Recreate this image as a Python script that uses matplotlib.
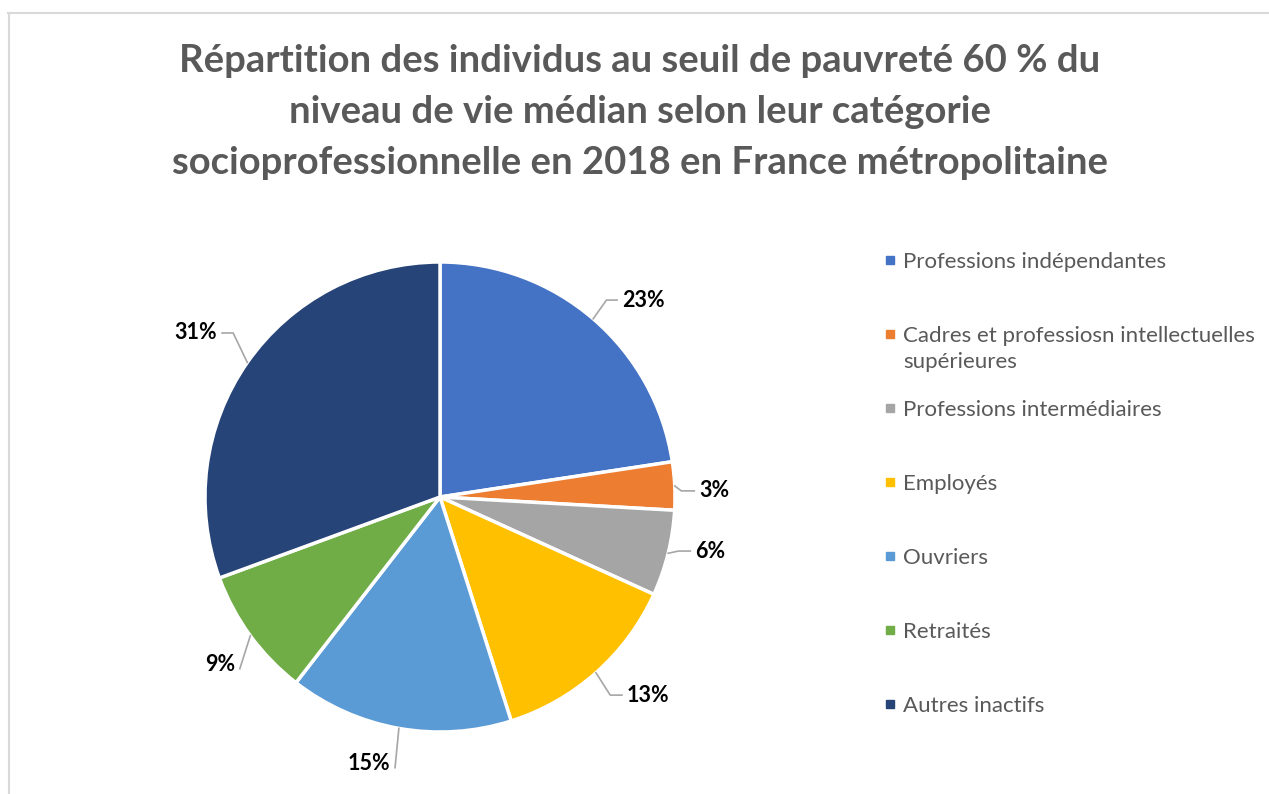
import matplotlib.pyplot as plt
import numpy as np

# données
categories = ['Professions indépendantes',
              'Cadres et professiosn intellectuelles\nsupérieures',
              'Professions intermédiaires',
              'Employés',
              'Ouvriers',
              'Retraités',
              'Autres inactifs']
values = [22.6, 3.3, 5.9, 13.3, 15.4, 8.9, 30.6]
colors = ['#4472C4', '#ED7D31', '#A5A5A5', '#FFC000', '#5B9BD5', '#70AD47', '#264478']
title_lines = ['Répartition des individus au seuil de pauvreté 60 % du',
               'niveau de vie médian selon leur catégorie',
               'socioprofessionnelle en 2018 en France métropolitaine']

# position des étiquettes (coordonnées du graphique, rayon = 1)
label_pos = [(0.864, 0.838), (1.166, 0.026), (1.149, -0.230), (0.885, -0.843),
             (-0.302, -1.132), (-0.936, -0.711), (-1.038, 0.698)]
elbow_len = [0.045, 0.055, 0.05, 0.05, 0.0, 0.0, 0.047]

plt.rcParams['font.family'] = ['Lato', 'DejaVu Sans']

W, H = 1269, 794
fig = plt.figure(figsize=(W / 100, H / 100), dpi=100)

# cadre gris clair
fig.add_artist(plt.Line2D([8 / W, 1], [1 - 13 / H, 1 - 13 / H], color='#d9d9d9', lw=1.5))
fig.add_artist(plt.Line2D([8.5 / W, 8.5 / W], [0, 1 - 13 / H], color='#d9d9d9', lw=1.5))

# titre
for i, line in enumerate(title_lines):
    fig.text(640 / W, 1 - (72 + 51 * i) / H, line, ha='center', va='baseline',
             fontsize=27.5, fontweight='bold', color='#595959')

# camembert : centre (440, 497) px, rayon 235 px
R = 235
cx, cy = 440, 497
ax = fig.add_axes([(cx - 1.5 * R) / W, (H - cy - 1.5 * R) / H, 3 * R / W, 3 * R / H])

wedges, _ = ax.pie(values, colors=colors, startangle=90, counterclock=False, radius=1,
                   wedgeprops=dict(edgecolor='white', linewidth=2.5))
ax.set_xlim(-1.5, 1.5)
ax.set_ylim(-1.5, 1.5)
ax.axis('off')
for w in wedges:
    w.set_clip_on(False)

fig.canvas.draw()
renderer = fig.canvas.get_renderer()
inv = ax.transData.inverted()

for w, v, (tx, ty), el in zip(wedges, values, label_pos, elbow_len):
    t = ax.text(tx, ty, f'{round(v):.0f}%', ha='center', va='center',
                fontsize=15.5, fontweight='bold', color='black')
    mid = np.deg2rad((w.theta1 + w.theta2) / 2)
    sx, sy = np.cos(mid), np.sin(mid)
    bb = t.get_window_extent(renderer)
    (x0, y0), (x1, y1) = inv.transform([(bb.x0, bb.y0), (bb.x1, bb.y1)])
    gap = 0.02
    if tx > sx:
        ex = x0 - gap
        bx = ex - el
    else:
        ex = x1 + gap
        bx = ex + el
    ey = ty if el > 0 else ty - 0.02
    ax.plot([sx, bx, ex], [sy, ey, ey], color='#a6a6a6', lw=1.2, clip_on=False)

# légende
for i, (cat, col) in enumerate(zip(categories, colors)):
    y = 1 - (260 + 74 * i) / H
    fig.patches.append(plt.Rectangle((886 / W, y - 4 / H), 8 / W, 8 / H,
                                     transform=fig.transFigure, color=col, figure=fig))
    if '\n' in cat:
        fig.text(903 / W, y - 34 / H, cat, ha='left', va='baseline',
                 fontsize=16, color='#595959', linespacing=1.38)
    else:
        fig.text(903 / W, y, cat, ha='left', va='center_baseline',
                 fontsize=16, color='#595959')

fig.savefig('out.png', dpi=100)
